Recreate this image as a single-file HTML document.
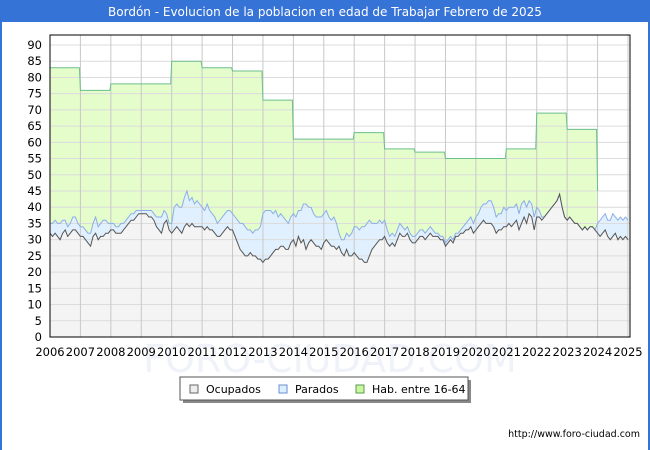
<!DOCTYPE html>
<html><head><meta charset="utf-8"><style>
html,body{margin:0;padding:0;background:#fff}
svg{display:block;font-family:"DejaVu Sans","Liberation Sans",sans-serif}
</style></head><body>
<svg id="chart" width="650" height="450" xmlns="http://www.w3.org/2000/svg">
<rect x="0" y="0" width="650" height="450" fill="#fff"/>
<rect x="0" y="0" width="650" height="22" fill="#3673d6"/>
<rect x="0" y="0" width="2" height="450" fill="#3673d6"/>
<rect x="648" y="0" width="2" height="450" fill="#3673d6"/>
<text x="325" y="16" text-anchor="middle" fill="#fff" font-size="12">Bordón - Evolucion de la poblacion en edad de Trabajar Febrero de 2025</text>
<text x="330" y="372" text-anchor="middle" fill="#f0f2fa" font-size="38">FORO-CIUDAD.COM</text>
<g id="plot"></g>
<g>
<rect x="183" y="380" width="288" height="23" fill="#888"/>
<rect x="180" y="377" width="288" height="23" fill="#fff" stroke="#555"/>
<g><rect x="190" y="385" width="8" height="8" fill="#eee" stroke="#666"/><text x="206" y="393" font-size="11" fill="#000">Ocupados</text></g>
<g><rect x="279" y="385" width="8" height="8" fill="#ddeeff" stroke="#6a8fd0"/><text x="295" y="393" font-size="11" fill="#000">Parados</text></g>
<g><rect x="356" y="385" width="8" height="8" fill="#ccf5a0" stroke="#5a9a50"/><text x="372" y="393" font-size="11" fill="#000">Hab. entre 16-64</text></g>
</g>
<text x="640" y="437" text-anchor="end" font-size="9.5" fill="#000">http://www.foro-ciudad.com</text>
</svg>
<script>
const years = [2006,2007,2008,2009,2010,2011,2012,2013,2014,2015,2016,2017,2018,2019,2020,2021,2022,2023,2024,2025];
const yTicks = [0,5,10,15,20,25,30,35,40,45,50,55,60,65,70,75,80,85,90];
const habYears = [2006,2007,2008,2009,2010,2011,2012,2013,2014,2015,2016,2017,2018,2019,2020,2021,2022,2023,2024];
const habValues = [83,76,78,78,85,83,82,73,61,61,63,58,57,55,55,58,69,64,45];
const ocupados = [
32,31,32,31,30,32,33,31,32,33,33,32,
31,31,30,29,28,31,32,30,31,31,32,32,
33,33,32,32,32,33,34,35,36,36,37,38,
38,38,38,37,37,36,34,33,32,35,36,33,
32,33,34,33,32,34,35,34,35,34,34,34,
34,33,34,33,33,32,31,31,32,33,34,33,
33,31,29,27,26,25,25,26,25,25,24,24,
23,24,24,25,26,27,27,28,28,27,27,29,
30,28,31,29,30,27,29,30,29,28,28,27,
29,30,29,28,28,27,28,26,25,27,25,25,
26,25,24,24,23,23,25,27,28,29,30,30,
31,29,28,29,28,30,32,31,31,32,30,29,
29,30,31,31,30,31,32,31,31,31,30,30,
28,29,30,29,31,31,32,32,33,33,34,32,
33,34,35,36,35,35,35,34,32,33,33,34,
34,35,34,35,36,33,35,37,35,38,37,33,
37,37,36,37,38,39,40,41,42,44,40,37,
36,37,36,35,35,34,33,34,33,34,34,33,
32,31,32,33,31,30,31,32,30,31,30,31,
30];
const parados = [
3,4,4,4,5,4,3,3,3,4,4,3,
3,3,3,3,4,4,5,4,4,5,4,3,
2,2,2,2,3,2,2,2,2,2,2,1,
1,1,1,2,2,2,3,4,5,4,2,2,
3,7,7,7,8,9,10,8,8,7,8,7,
6,6,7,6,5,5,4,5,5,5,5,6,
5,6,7,8,9,9,8,7,7,8,9,10,
15,15,15,14,12,12,10,10,9,9,8,8,
8,9,8,10,11,14,11,10,9,9,9,10,
9,9,8,8,9,8,4,4,5,5,6,7,
8,9,9,10,11,12,11,8,7,6,6,5,
5,4,3,3,3,3,3,3,2,2,2,2,
2,2,2,2,2,2,2,2,1,1,1,1,
1,1,1,1,1,1,1,2,2,3,3,3,
4,4,5,5,6,7,7,6,5,5,5,6,
5,5,6,5,5,5,6,5,5,4,4,4,
3,2,1,0,0,0,0,0,0,0,0,0,
0,0,0,0,0,0,0,0,0,0,0,0,
3,5,5,5,5,6,7,5,6,6,6,6,
6];

const X0=50,X1=628,Y0=337,YT=45;
const NS='http://www.w3.org/2000/svg';
const xs = t => X0 + (t-2006)/(2025-2006)*(X1-X0);
const ys = v => Y0 - v/90*(Y0-YT);
const plot = document.getElementById('plot');
function mk(tag, attrs){const e=document.createElementNS(NS,tag);for(const k in attrs)e.setAttribute(k,attrs[k]);plot.appendChild(e);return e;}

let e = mk('rect',{x:X0,y:35,width:580,height:Y0-35,fill:'#fff'});



let d = '';
for(let i=0;i<habYears.length-1;i++){
  const x=xs(habYears[i]), v=habValues[i];
  d += (i===0?'M':'L')+x+','+ys(v)+' L'+(xs(habYears[i+1])-1)+','+ys(v)+' ';
}
const lastX = xs(habYears[habYears.length-1]);
d += 'L'+lastX+','+ys(habValues[habValues.length-1]);
e = mk('path',{d:d+' L'+lastX+','+Y0+' L'+X0+','+Y0+' Z',fill:'#e4fdcb',stroke:'none'});



const tOf = i => 2006 + i/12;
let dt='';
for(let i=0;i<ocupados.length;i++) dt += (i?'L':'M')+xs(tOf(i)).toFixed(1)+','+ys(ocupados[i]+parados[i]).toFixed(1)+' ';
e = mk('path',{d:dt+'L'+xs(tOf(ocupados.length-1))+','+Y0+' L'+X0+','+Y0+' Z',fill:'#e1f0fe'});


let dof='';
for(let i=0;i<ocupados.length;i++) dof += (i?'L':'M')+xs(tOf(i)).toFixed(1)+','+ys(ocupados[i]).toFixed(1)+' ';
e = mk('path',{d:dof+'L'+xs(tOf(ocupados.length-1))+','+Y0+' L'+X0+','+Y0+' Z',fill:'#f4f4f4'});



yTicks.forEach(v=>{
  if(v===0) return;
  const g = mk('line',{x1:X0,x2:630,y1:ys(v),y2:ys(v),stroke:'#dcdcdc','stroke-width':1});
  
  
});
years.forEach(y=>{
  const g = mk('line',{x1:xs(y),x2:xs(y),y1:35,y2:Y0,stroke:'#c8c8c8','stroke-width':1});
  
  
});

e = mk('path',{d:d,fill:'none',stroke:'#6cbf8c','stroke-width':1});


e = mk('path',{d:dt,fill:'none',stroke:'#8aaee8','stroke-width':1});


e = mk('path',{d:dof,fill:'none',stroke:'#555','stroke-width':1});



e = mk('rect',{x:X0,y:35,width:580,height:Y0-35,fill:'none',stroke:'#000','stroke-width':1});



yTicks.forEach(v=>{
  const t = mk('text',{x:42,y:ys(v)+4,'text-anchor':'end','font-size':11.5,fill:'#000'});
  t.textContent=v;
  
  
});
years.forEach(y=>{
  const t = mk('text',{x:xs(y),y:356,'text-anchor':'middle','font-size':11.5,fill:'#000'});
  t.textContent=y;
  
  
});
</script>
</body></html>
